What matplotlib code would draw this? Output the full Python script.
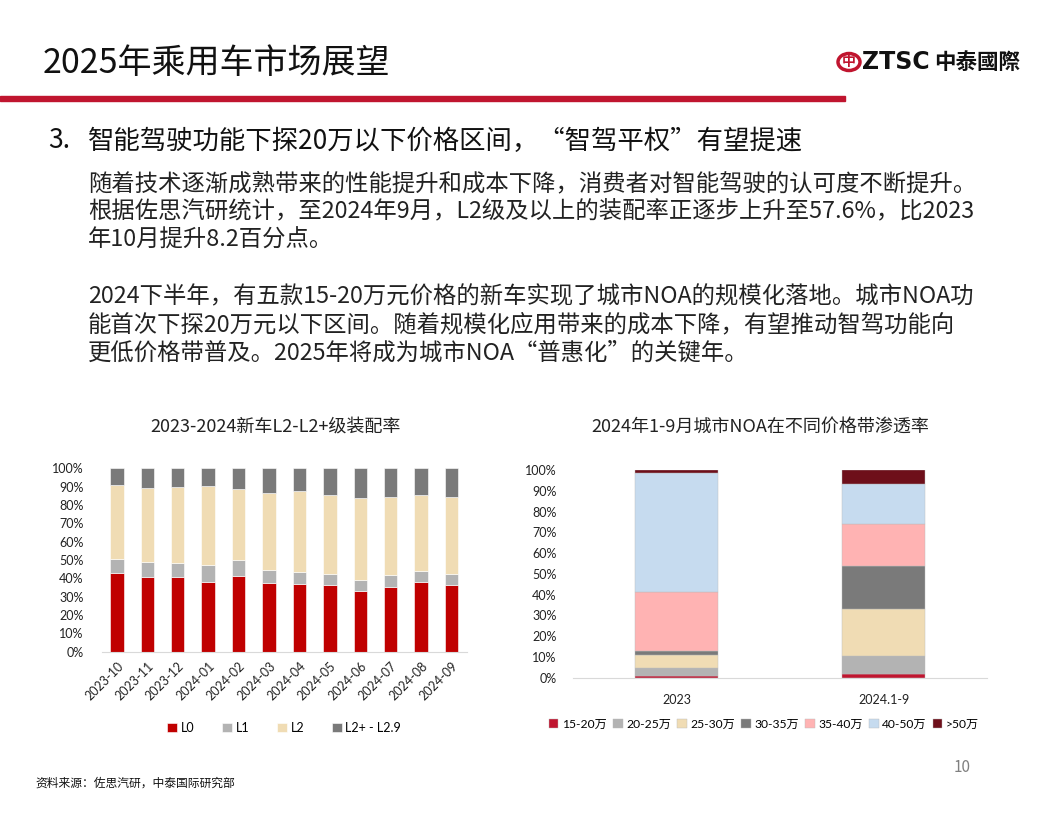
import matplotlib
matplotlib.use("Agg")
import matplotlib.pyplot as plt
import numpy as np
from matplotlib.patches import Circle, Rectangle

plt.rcParams['font.family'] = ['Noto Sans CJK SC', 'DejaVu Sans']

# --- left chart data: L2 penetration by month (share, %) ---
months = ["2023-10", "2023-11", "2023-12", "2024-01", "2024-02", "2024-03",
          "2024-04", "2024-05", "2024-06", "2024-07", "2024-08", "2024-09"]
l0 = [42.7, 40.7, 40.7, 38.0, 41.3, 37.5, 37.1, 36.4, 33.1, 35.3, 37.8, 36.2]
l1 = [8.0, 8.2, 7.8, 9.3, 8.5, 7.0, 6.5, 6.1, 6.0, 6.3, 6.2, 6.3]
l2 = [40.4, 40.4, 41.3, 43.2, 38.9, 41.9, 43.9, 43.1, 44.5, 42.8, 41.3, 41.7]
l2plus = [8.9, 10.7, 10.2, 9.5, 11.3, 13.6, 12.5, 14.4, 16.4, 15.6, 14.7, 15.8]
left_names = ["L0", "L1", "L2", "L2+ - L2.9"]
left_colors = ["#C00000", "#B3B3B3", "#F0DCB4", "#7A7A7A"]

# --- right chart data: city NOA share by price band (%) ---
periods = ["2023", "2024.1-9"]
bands = ["15-20万", "20-25万", "25-30万", "30-35万", "35-40万", "40-50万", ">50万"]
band_vals = [
    [0.6, 1.6],
    [3.9, 9.0],
    [6.2, 22.3],
    [2.0, 21.0],
    [28.7, 20.1],
    [57.2, 19.1],
    [1.4, 6.9],
]
band_colors = ["#C0152F", "#B3B3B3", "#F0DCB4", "#7A7A7A", "#FFB3B3", "#C6DBEF", "#6E0F1A"]

W, H = 1056, 816
fig = plt.figure(figsize=(W / 100, H / 100), dpi=100)


def fx(x):
    return x / W


def fy(y):
    return 1 - y / H


# header
fig.text(fx(43), fy(63), "2025年乘用车市场展望", fontsize=24.5, va='center', ha='left', color='#111111')
fig.patches.append(Rectangle((0, fy(101)), fx(845), 5 / H, transform=fig.transFigure,
                             color='#C0152F', zorder=1))
# logo
fig.patches.append(Circle((fx(849), fy(62)), 11 / W, transform=fig.transFigure,
                          fill=False, edgecolor='#C0152F', linewidth=2.5))
fig.text(fx(849), fy(62), "中", fontsize=10, ha='center', va='center', color='#C0152F', fontweight='bold')
fig.text(fx(862), fy(62), "ZTSC", fontsize=17, ha='left', va='center', color='#111111', fontweight='bold',
         family=['DejaVu Sans'])
fig.text(fx(934), fy(62), "中泰國際", fontsize=15.5, ha='left', va='center', color='#111111', fontweight='bold',
         family=['Noto Sans CJK TC'])

# heading and body
fig.text(fx(48), fy(141), "3.", fontsize=19, ha='left', va='center', color='#111111')
fig.text(fx(88), fy(141), "智能驾驶功能下探20万以下价格区间，“智驾平权”有望提速",
         fontsize=19, ha='left', va='center', color='#111111')
body = [
    (184, "随着技术逐渐成熟带来的性能提升和成本下降，消费者对智能驾驶的认可度不断提升。"),
    (212, "根据佐思汽研统计，至2024年9月，L2级及以上的装配率正逐步上升至57.6%，比2023"),
    (240, "年10月提升8.2百分点。"),
    (297, "2024下半年，有五款15-20万元价格的新车实现了城市NOA的规模化落地。城市NOA功"),
    (325, "能首次下探20万元以下区间。随着规模化应用带来的成本下降，有望推动智驾功能向"),
    (353, "更低价格带普及。2025年将成为城市NOA“普惠化”的关键年。"),
]
for yy, txt in body:
    fig.text(fx(88), fy(yy), txt, fontsize=16.8, ha='left', va='center', color='#222222')

# chart titles
fig.text(fx(276), fy(427), "2023-2024新车L2-L2+级装配率", fontsize=13, ha='center', va='center', color='#222222')
fig.text(fx(760), fy(427), "2024年1-9月城市NOA在不同价格带渗透率", fontsize=13, ha='center', va='center',
         color='#222222')

tick_font = ['Lato', 'Noto Sans CJK SC']

# left chart
ax1 = fig.add_axes([fx(101.7), fy(651.7), (466.7 - 101.7) / W, (651.7 - 468.3) / H])
x = np.arange(len(months))
bottom = np.zeros(len(months))
for vals, name, c in zip([l0, l1, l2, l2plus], left_names, left_colors):
    v = np.array(vals) / 100
    ax1.bar(x, v, 0.44, bottom=bottom, color=c, label=name, edgecolor='white', linewidth=0.4)
    bottom += v
ax1.set_xlim(-0.5, len(months) - 0.5)
ax1.set_ylim(0, 1.0)
ax1.set_yticks(np.arange(0, 1.01, 0.1))
ax1.set_yticklabels([f"{int(round(t * 100))}%" for t in np.arange(0, 1.01, 0.1)], family=tick_font)
ax1.set_xticks(x)
ax1.set_xticklabels(months, rotation=45, ha='right', rotation_mode='anchor', family=tick_font)
ax1.tick_params(axis='both', length=0, labelsize=9, colors='#222222')
ax1.tick_params(axis='y', pad=13)
ax1.tick_params(axis='x', pad=6)
for s in ['top', 'right', 'left']:
    ax1.spines[s].set_visible(False)
ax1.spines['bottom'].set_color('#D9D9D9')

h1, lab1 = ax1.get_legend_handles_labels()
fig.legend(h1, lab1, loc='center', bbox_to_anchor=(fx(284), fy(728)), ncol=4, frameon=False,
           handlelength=0.8, handleheight=0.8, handletextpad=0.3, columnspacing=2.2,
           prop={'family': tick_font, 'size': 9})

# right chart
ax2 = fig.add_axes([fx(573.3), fy(677.7), (987.3 - 573.3) / W, (677.7 - 470) / H])
xp = np.arange(len(periods))
bottom = np.zeros(len(periods))
for vals, name, c in zip(band_vals, bands, band_colors):
    v = np.array(vals) / 100
    ax2.bar(xp, v, 0.4, bottom=bottom, color=c, label=name, edgecolor='#BBBBBB', linewidth=0.3)
    bottom += v
ax2.set_xlim(-0.5, len(periods) - 0.5)
ax2.set_ylim(0, 1.0)
ax2.set_yticks(np.arange(0, 1.01, 0.1))
ax2.set_yticklabels([f"{int(round(t * 100))}%" for t in np.arange(0, 1.01, 0.1)], family=tick_font)
ax2.set_xticks(xp)
ax2.set_xticklabels(periods, family=tick_font)
ax2.tick_params(axis='both', length=0, labelsize=9, colors='#222222')
ax2.tick_params(axis='y', pad=12)
ax2.tick_params(axis='x', pad=12)
for s in ['top', 'right', 'left']:
    ax2.spines[s].set_visible(False)
ax2.spines['bottom'].set_color('#D9D9D9')

h2, lab2 = ax2.get_legend_handles_labels()
fig.legend(h2, lab2, loc='center', bbox_to_anchor=(fx(764), fy(724)), ncol=7, frameon=False,
           handlelength=0.8, handleheight=0.8, handletextpad=0.3, columnspacing=0.5,
           prop={'family': tick_font, 'size': 8.7})

# footer
fig.text(fx(35), fy(783), "资料来源：佐思汽研，中泰国际研究部", fontsize=8.5, ha='left', va='center', color='#111111')
fig.text(fx(962), fy(768), "10", fontsize=11, ha='center', va='center', color='#808080')

fig.savefig("out.png", dpi=100)
